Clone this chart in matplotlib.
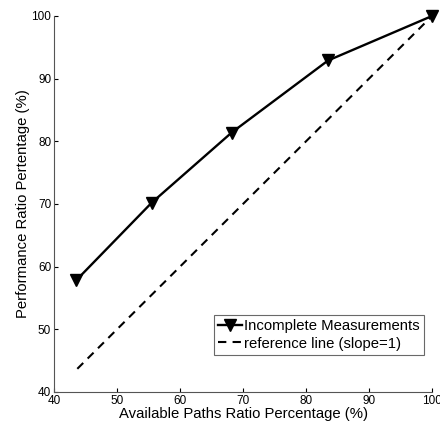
import matplotlib
matplotlib.use("Agg")
import matplotlib.pyplot as plt

plt.rcParams['font.family'] = ['Liberation Sans', 'DejaVu Sans']

avail_x = [43.5, 55.5, 68.2, 83.5, 100.0]
perf_y = [57.8, 70.2, 81.4, 92.9, 100.0]
ref_x = [43.7, 100.0]
ref_y = [43.7, 100.0]
xticks = [40, 50, 60, 70, 80, 90, 100]
yticks = [40, 50, 60, 70, 80, 90, 100]

fig = plt.figure(figsize=(4.4, 4.26), dpi=100)
ax = fig.add_axes([54/440, 1-392/426, (432-54)/440, (392-16)/426])

ax.plot(avail_x, perf_y, '-', color='black', lw=1.7, marker='v', ms=8,
        markerfacecolor='black', markeredgecolor='black', clip_on=False,
        label='Incomplete Measurements')
ax.plot(ref_x, ref_y, '--', color='black', lw=1.5, dashes=(4, 3),
        label='reference line (slope=1)', clip_on=False)

ax.set_xlim(40, 100)
ax.set_ylim(40, 100)
ax.set_xticks(xticks)
ax.set_yticks(yticks)
ax.tick_params(direction='in', labelsize=8.5, length=3, width=0.8, pad=2)
for s in ['top', 'right']:
    ax.spines[s].set_visible(False)
for s in ['left', 'bottom']:
    ax.spines[s].set_color('#555555')
    ax.spines[s].set_linewidth(0.8)

ax.set_xlabel('Available Paths Ratio Percentage (%)', fontsize=10.7, labelpad=0)
ax.set_ylabel('Performance Ratio Pertentage (%)', fontsize=10.7, labelpad=1)

leg = ax.legend(loc='lower right', bbox_to_anchor=(0.98, 0.098), fontsize=10.7,
                frameon=True, fancybox=False, edgecolor='#444444',
                handlelength=1.6, handletextpad=0.15, borderpad=0.3,
                labelspacing=0.25, borderaxespad=0)
leg.get_frame().set_linewidth(0.8)

fig.savefig('out.png', dpi=100)
